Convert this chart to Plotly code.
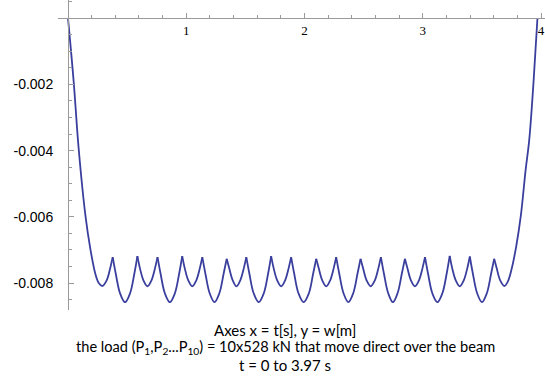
import plotly.graph_objects as go

# Time t [s] and deflection w [m]
t = [0.000, 0.048, 0.090, 0.147, 0.189, 0.231, 0.260, 0.290, 0.327, 0.357, 0.378,
     0.404, 0.440, 0.4825, 0.525, 0.561, 0.587,
     0.608, 0.638, 0.672, 0.706, 0.736, 0.757,
     0.783, 0.819, 0.8615, 0.904, 0.940, 0.966,
     0.987, 1.017, 1.051, 1.085, 1.115, 1.136,
     1.162, 1.198, 1.239, 1.280, 1.316, 1.342,
     1.363, 1.393, 1.425, 1.457, 1.487, 1.508,
     1.534, 1.570, 1.613, 1.656, 1.692, 1.718,
     1.739, 1.769, 1.8025, 1.836, 1.866, 1.887,
     1.913, 1.949, 1.993, 2.037, 2.073, 2.099,
     2.120, 2.150, 2.1835, 2.217, 2.247, 2.268,
     2.294, 2.330, 2.371, 2.412, 2.448, 2.474,
     2.495, 2.525, 2.560, 2.595, 2.625, 2.646,
     2.672, 2.708, 2.7475, 2.787, 2.823, 2.849,
     2.870, 2.900, 2.934, 2.968, 2.998, 3.019,
     3.045, 3.081, 3.1235, 3.166, 3.202, 3.228,
     3.249, 3.279, 3.313, 3.347, 3.377, 3.398,
     3.424, 3.460, 3.501, 3.542, 3.578, 3.604,
     3.625, 3.655, 3.690, 3.720, 3.750, 3.790, 3.830, 3.870, 3.900, 3.937, 3.970]

w = [0.0, -0.00192, -0.00393, -0.00595, -0.00697, -0.00772, -0.00800, -0.00809, -0.00792, -0.00755, -0.00722,
     -0.00772, -0.00831, -0.00858, -0.00831, -0.00772, -0.00719,
     -0.00755, -0.00792, -0.00810, -0.00792, -0.00755, -0.00722,
     -0.00772, -0.00831, -0.00858, -0.00831, -0.00772, -0.00719,
     -0.00755, -0.00792, -0.00810, -0.00792, -0.00755, -0.00722,
     -0.00772, -0.00831, -0.00858, -0.00831, -0.00772, -0.00727,
     -0.00755, -0.00792, -0.00810, -0.00792, -0.00755, -0.00722,
     -0.00772, -0.00831, -0.00858, -0.00831, -0.00772, -0.00719,
     -0.00755, -0.00792, -0.00810, -0.00792, -0.00755, -0.00722,
     -0.00772, -0.00831, -0.00858, -0.00831, -0.00772, -0.00727,
     -0.00755, -0.00792, -0.00810, -0.00792, -0.00755, -0.00722,
     -0.00772, -0.00831, -0.00858, -0.00831, -0.00772, -0.00727,
     -0.00755, -0.00792, -0.00810, -0.00792, -0.00755, -0.00722,
     -0.00772, -0.00831, -0.00858, -0.00831, -0.00772, -0.00727,
     -0.00755, -0.00792, -0.00810, -0.00792, -0.00755, -0.00722,
     -0.00772, -0.00831, -0.00858, -0.00831, -0.00772, -0.00718,
     -0.00755, -0.00792, -0.00810, -0.00792, -0.00755, -0.00720,
     -0.00772, -0.00831, -0.00858, -0.00831, -0.00772, -0.00727,
     -0.00755, -0.00792, -0.00809, -0.00795, -0.00760, -0.00690, -0.00595, -0.00458, -0.00370, -0.00192, 0.0]

# cusp (peak) times where the curve has a sharp corner
cusp_t = [0.378, 0.587, 0.757, 0.966, 1.136, 1.342, 1.508, 1.718, 1.887,
          2.099, 2.268, 2.474, 2.646, 2.849, 3.019, 3.228, 3.398, 3.604]

x_tick_vals = [1, 2, 3, 4]
x_tick_text = ["1", "2", "3", "4"]
y_tick_vals = [-0.008, -0.006, -0.004, -0.002]
y_tick_text = ["-0.008", "-0.006", "-0.004", "-0.002"]

caption = [
    "Axes x = t[s], y = w[m]",
    "the load (P<sub>1</sub>,P<sub>2</sub>...P<sub>10</sub>) = 10x528 kN that move direct over the beam",
    "t = 0 to 3.97 s",
]
caption_size = [15, 14.6, 15]

# split into smooth segments between cusps
segments = []
cur_t, cur_w = [], []
for ti, wi in zip(t, w):
    cur_t.append(ti)
    cur_w.append(wi)
    if ti in cusp_t:
        segments.append((cur_t, cur_w))
        cur_t, cur_w = [ti], [wi]
segments.append((cur_t, cur_w))

LINE = "#3a3f9e"
AX = "#9a9a9a"

fig = go.Figure()
for st, sw in segments:
    fig.add_trace(go.Scatter(
        x=st, y=sw, mode="lines",
        line=dict(color=LINE, width=1.8, shape="spline", smoothing=1),
        hoverinfo="skip", showlegend=False,
    ))

W, H = 545, 378
ML, MR, MT, MB = 58, 0, 0, 68
PW, PH = W - ML - MR, H - MT - MB
px_per_t = 118.25
px_per_w = 33100.0
x0_px = 68 - ML          # t = 0 inside the plot area
y0_px = 18.2             # w = 0 from the top

x_range = [-x0_px / px_per_t, (PW - x0_px) / px_per_t]
y_range = [-(PH - y0_px) / px_per_w, y0_px / px_per_w]

fig.update_layout(
    width=W, height=H,
    margin=dict(l=ML, r=MR, t=MT, b=MB, pad=0),
    plot_bgcolor="white", paper_bgcolor="white",
    xaxis=dict(
        range=x_range, anchor="free", position=(PH - y0_px) / PH,
        showline=True, linecolor=AX, linewidth=1,
        showgrid=False, zeroline=False,
        tickmode="array", tickvals=x_tick_vals, ticktext=x_tick_text,
        ticks="inside", ticklen=5, tickcolor=AX, tickwidth=1,
        tickfont=dict(family="Liberation Serif", size=13, color="black"),
        ticklabelstandoff=0,
        minor=dict(ticks="inside", ticklen=3, tickcolor=AX, dtick=0.2, tick0=0, showgrid=False),
        fixedrange=True,
    ),
    yaxis=dict(
        range=y_range, anchor="free", position=x0_px / PW,
        showline=True, linecolor=AX, linewidth=1,
        showgrid=False, zeroline=False,
        tickmode="array", tickvals=y_tick_vals, ticktext=y_tick_text,
        ticks="inside", ticklen=5, tickcolor=AX, tickwidth=1,
        tickfont=dict(family="Liberation Sans", size=14, color="black"),
        ticklabelstandoff=12,
        minor=dict(ticks="inside", ticklen=3, tickcolor=AX, dtick=0.0005, tick0=0, showgrid=False),
        fixedrange=True,
    ),
)

cx = (285 - ML) / PW
for txt, fs, py in zip(caption, caption_size, [330, 347.5, 365]):
    fig.add_annotation(
        text=txt, xref="paper", yref="paper",
        x=cx, y=(PH - (py - MT)) / PH, xanchor="center", yanchor="middle",
        showarrow=False, font=dict(family="Lato", size=fs, color="black"),
    )

fig.write_html(
    "out.html",
    config={"displayModeBar": False},
    post_script="document.body.style.margin='0';document.body.style.padding='0';",
)
